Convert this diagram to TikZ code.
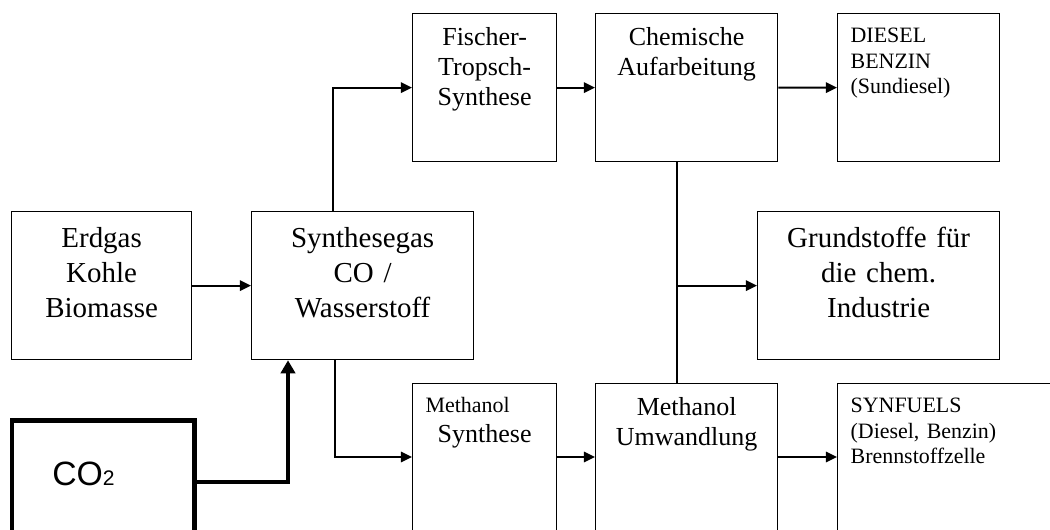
\documentclass[tikz,border=0pt]{standalone}
\usepackage{fontspec}
\setmainfont{Liberation Serif}
\newfontfamily\arialfont{Liberation Sans}
\usetikzlibrary{arrows.meta,positioning}

\begin{document}
\begin{tikzpicture}[
  kasten/.style={
    draw,
    line width=0.9pt,
    anchor=north west,
    inner sep=0pt,
    align=center,
    text width=#1
  },
  gross/.style={font=\fontsize{20.6pt}{24.9pt}\selectfont},
  mittel/.style={font=\fontsize{18.5pt}{21.3pt}\selectfont},
  klein/.style={font=\fontsize{15.6pt}{18.2pt}\selectfont},
  pfeil/.style={line width=1.4pt, -{Triangle[length=0.28cm,width=0.26cm]}}
]
  \useasboundingbox (0,0) rectangle (26.25,-13.225);
  \clip (0,0) rectangle (26.25,-13.225);

  % obere Reihe
  \node[kasten=3.6cm, mittel, text height=0.8cm, text depth=2.9cm] (ft) at (10.3,-0.325)
    {Fischer-\\Tropsch-\\Synthese};
  \node[kasten=4.55cm, mittel, text height=0.8cm, text depth=2.9cm] (chem) at (14.875,-0.325)
    {Chemische\\Aufarbeitung};
  \node[kasten=3.4cm, klein, align=left, inner xsep=0.325cm, text height=0.725cm, text depth=2.975cm] (diesel) at (20.925,-0.325)
    {DIESEL\\BENZIN\\(Sundiesel)};

  % mittlere Reihe
  \node[kasten=4.5cm, gross, text height=0.9cm, text depth=2.8cm] (erdgas) at (0.275,-5.275)
    {Erdgas\\Kohle\\Biomasse};
  \node[kasten=5.55cm, gross, text height=0.9cm, text depth=2.8cm] (syn) at (6.275,-5.275)
    {Synthesegas\\CO /\\Wasserstoff};
  \node[kasten=6.05cm, gross, text height=0.9cm, text depth=2.8cm] (grund) at (18.925,-5.275)
    {Grundstoffe für\\die chem.\\Industrie};

  % untere Reihe
  \node[kasten=3.6cm, mittel, text height=0.725cm, text depth=5cm] (ms) at (10.3,-9.575)
    {\makebox[\hsize][l]{\hspace{0.325cm}\fontsize{15.6pt}{18.2pt}\selectfont Methanol}\\Synthese};
  \node[kasten=4.55cm, mittel, text height=0.8cm, text depth=5cm] (mu) at (14.875,-9.575)
    {Methanol\\Umwandlung};
  \node[kasten=5.95cm, klein, align=left, inner xsep=0.325cm, text height=0.725cm, text depth=5cm] (sf) at (20.925,-9.575)
    {SYNFUELS\\(Diesel, Benzin)\\Brennstoffzelle};
  \node[kasten=2.55cm, line width=3.2pt, align=left, inner xsep=1.0cm, text height=1.625cm, text depth=5cm,
    font=\arialfont\fontsize{24pt}{28pt}\selectfont] (co2) at (0.25,-10.45)
    {CO{\fontsize{15pt}{17pt}\selectfont 2}};

  % Pfeile
  \draw[pfeil] ([xshift=2.05cm]syn.north west) |- (ft.west);
  \draw[pfeil] (ft.east) -- (chem.west);
  \draw[pfeil] (chem.east) -- (diesel.west);
  \draw[pfeil] (erdgas.east) -- (syn.west);
  \draw[line width=1.4pt] ([xshift=2.05cm]chem.south west) -- ([xshift=2.05cm]mu.north west);
  \draw[pfeil] ([xshift=2.05cm]chem.south west) |- (grund.west);
  \draw[pfeil] ([xshift=2.1cm]syn.south west) |- ([yshift=-1.85cm]ms.north west);
  \draw[pfeil] ([yshift=-1.85cm]ms.north east) -- ([yshift=-1.85cm]mu.north west);
  \draw[pfeil] ([yshift=-1.85cm]mu.north east) -- ([yshift=-1.85cm]sf.north west);
  \draw[line width=3.2pt, -{Triangle[length=0.33cm,width=0.36cm]}]
    ([yshift=-1.6cm]co2.north east) -| ([xshift=0.925cm]syn.south west);
\end{tikzpicture}
\end{document}
